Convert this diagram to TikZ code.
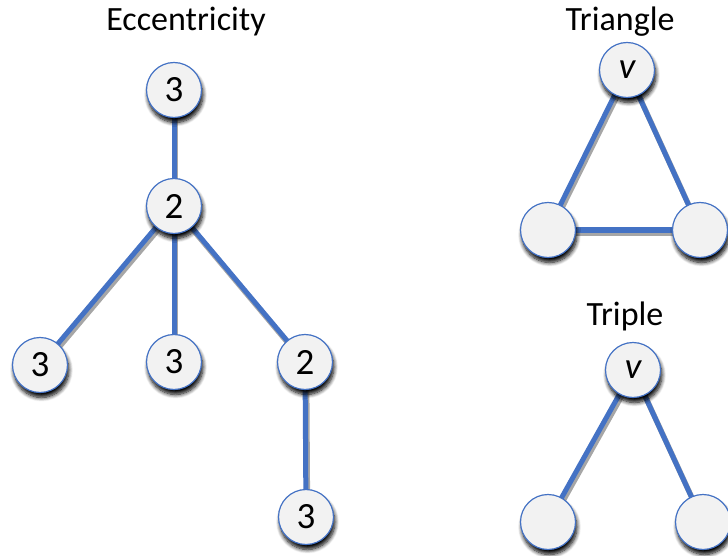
\documentclass[tikz,border=0pt]{standalone}
\usepackage{fontspec}
\setmainfont{Carlito}
\usetikzlibrary{shadows.blur}
\definecolor{edgeblue}{HTML}{4472C4}
\definecolor{nodefill}{HTML}{F2F2F2}
\newcommand\vertfont{\fontsize{37}{37}\selectfont}
\newcommand\titlefont{\fontsize{34}{34}\selectfont}
\begin{document}
\begin{tikzpicture}[x=1pt,y=-1pt,
  vert/.style={circle,draw=edgeblue,line width=1.2pt,fill=nodefill,
    minimum size=55pt,inner sep=0pt,execute at begin node=\vertfont,
    blur shadow={shadow xshift=1.5pt,shadow yshift=-5pt,shadow blur steps=8,
      shadow blur radius=4pt,shadow opacity=100}},
  link/.style={draw=edgeblue,line width=5pt,
    preaction={draw=black,opacity=0.35,line width=5.5pt,transform canvas={xshift=1.5pt,yshift=-3pt}}},
  title/.style={inner sep=0pt,execute at begin node=\titlefont}]
\useasboundingbox (0,0) rectangle (728,556);

% titles
\node[title] (tecc) at (186,22) {Eccentricity};
\node[title] (ttri) at (620,22) {Triangle};
\node[title] (ttrp) at (625,316) {Triple};

% eccentricity tree
\coordinate (pa) at (174,90);
\coordinate (pb) at (174,206);
\coordinate (pc) at (40,365);
\coordinate (pd) at (174,362);
\coordinate (pe) at (305,362);
\coordinate (pf) at (306,517);
\path[link] (pa) -- (pb);
\path[link] (pb) -- (pc);
\path[link] (pb) -- (pd);
\path[link] (pb) -- (pe);
\path[link] (pe) -- (pf);
\node[vert] (a) at (pa) {3};
\node[vert] (b) at (pb) {2};
\node[vert] (c) at (pc) {3};
\node[vert] (d) at (pd) {3};
\node[vert] (e) at (pe) {2};
\node[vert] (f) at (pf) {3};

% triangle
\coordinate (qv) at (627,70);
\coordinate (ql) at (548,230);
\coordinate (qr) at (700,230);
\path[link] (qv) -- (ql);
\path[link] (qv) -- (qr);
\path[link] (ql) -- (qr);
\node[vert] (tv) at (qv) {\itshape v};
\node[vert] (tl) at (ql) {};
\node[vert] (tr) at (qr) {};

% triple
\coordinate (rv) at (633,370);
\coordinate (rl) at (548,522);
\coordinate (rr) at (703,522);
\path[link] (rv) -- (rl);
\path[link] (rv) -- (rr);
\node[vert] (pv) at (rv) {\itshape v};
\node[vert] (pl) at (rl) {};
\node[vert] (pr) at (rr) {};
\end{tikzpicture}
\end{document}
